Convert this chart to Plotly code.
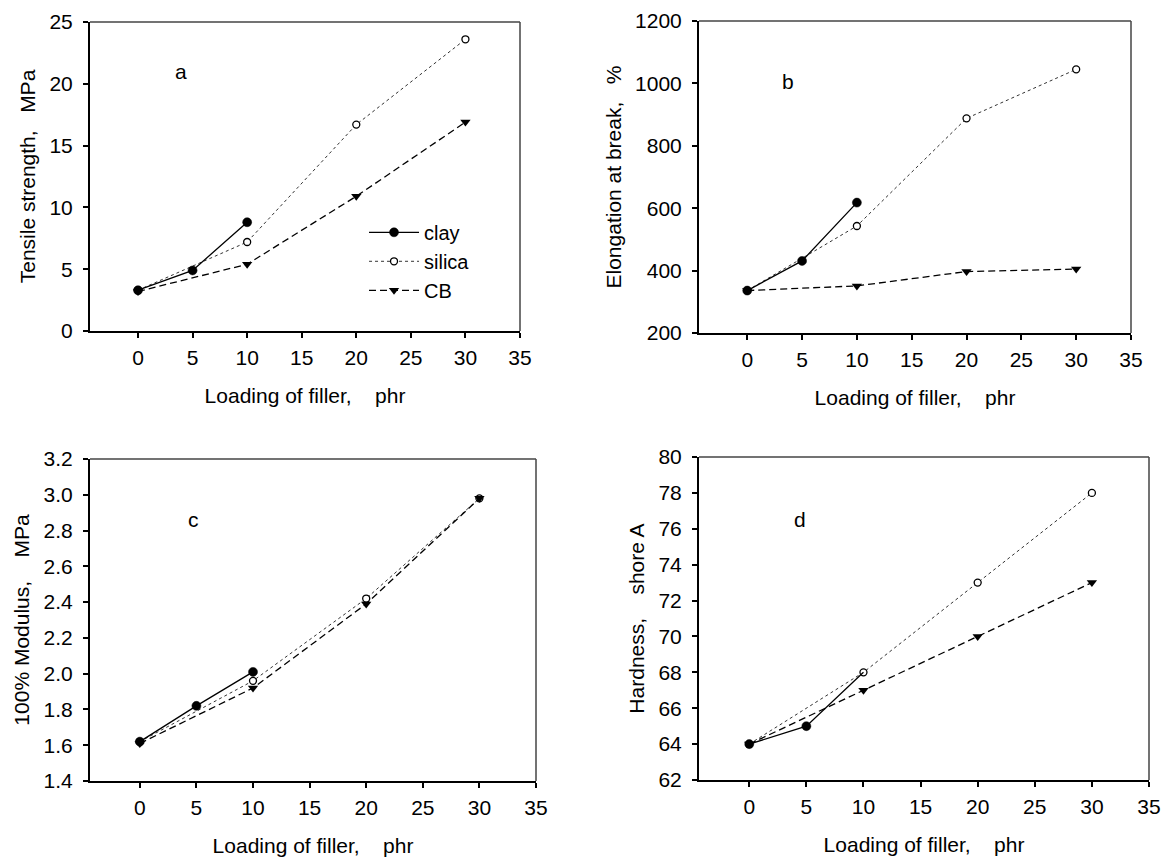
import plotly.graph_objects as go

# ---------------- data ----------------
x_clay = [0, 5, 10]
x_fill = [0, 10, 20, 30]

a_clay = [3.3, 4.9, 8.8]
a_silica = [3.3, 7.2, 16.7, 23.6]
a_cb = [3.2, 5.4, 10.9, 16.9]

b_clay = [336, 431, 618]
b_silica = [336, 543, 888, 1045]
b_cb = [336, 351, 397, 405]

c_clay = [1.62, 1.82, 2.01]
c_silica = [1.62, 1.96, 2.42, 2.98]
c_cb = [1.61, 1.92, 2.39, 2.98]

d_clay = [64, 65, 68]
d_silica = [64, 68, 73, 78]
d_cb = [64, 67, 70, 73]

x_ticks = [0, 5, 10, 15, 20, 25, 30, 35]
x_title = "Loading of filler,\u00a0\u00a0\u00a0\u00a0phr"
y_titles = ["Tensile strength,\u00a0\u00a0\u00a0MPa",
            "Elongation at break,\u00a0\u00a0\u00a0%",
            "100% Modulus,\u00a0\u00a0\u00a0\u00a0MPa",
            "Hardness,\u00a0\u00a0\u00a0\u00a0shore A"]
panel_letters = ["a", "b", "c", "d"]
y_ranges = [[0, 25], [200, 1200], [1.4, 3.2], [62, 80]]
y_dticks = [5, 200, 0.2, 2]
y_formats = ["d", "d", ".1f", "d"]

panels = [(a_clay, a_silica, a_cb), (b_clay, b_silica, b_cb),
          (c_clay, c_silica, c_cb), (d_clay, d_silica, d_cb)]

# letter positions in data coordinates
letter_pos = [(3.9, 21.0), (3.7, 1007), (4.7, 2.86), (4.4, 76.5)]

# ---------------- layout geometry ----------------
W, H = 1163, 858
boxes = [(90, 520, 22, 331), (699, 1131, 21, 333),
         (90, 536, 459, 781), (699, 1149, 457, 780)]

FONT = "Liberation Sans, Arial, Helvetica, sans-serif"
FS = 21

fig = go.Figure()

for i, (clay, silica, cb) in enumerate(panels):
    n = "" if i == 0 else str(i + 1)
    xa, ya = "x" + n, "y" + n
    show = i == 0
    clay_sizes = [9, 9, 9] if i != 3 else [9, 9, 0]
    fig.add_trace(go.Scatter(
        x=x_fill, y=silica, xaxis=xa, yaxis=ya, name="silica",
        mode="lines+markers", showlegend=show, legendrank=2,
        line=dict(color="#333333", width=1, dash="dot"),
        marker=dict(symbol="circle", size=7, color="white",
                    line=dict(color="black", width=1.3))))
    fig.add_trace(go.Scatter(
        x=x_fill, y=cb, xaxis=xa, yaxis=ya, name="CB",
        mode="lines+markers", showlegend=show, legendrank=3,
        line=dict(color="black", width=1.3, dash="7px,4px"),
        marker=dict(symbol="triangle-down", size=9, color="black",
                    line=dict(width=0))))
    fig.add_trace(go.Scatter(
        x=x_clay, y=clay, xaxis=xa, yaxis=ya, name="clay",
        mode="lines+markers", showlegend=show, legendrank=1,
        line=dict(color="black", width=1.3),
        marker=dict(symbol="circle", size=clay_sizes, color="black",
                    opacity=1, line=dict(color="black", width=0.5))))

    x0, x1, yt, yb = boxes[i]
    fig.layout["xaxis" + n] = dict(
        domain=[x0 / W, x1 / W], anchor=ya, range=[-4.4, 35],
        tickvals=x_ticks, ticks="outside", ticklen=5, tickwidth=1.5,
        tickcolor="black", showline=True, linecolor="black", linewidth=2,
        showgrid=False, zeroline=False, ticklabelstandoff=2, automargin=False,
        tickfont=dict(family=FONT, size=FS, color="black"),
        title=dict(text=x_title, standoff=20,
                   font=dict(family=FONT, size=FS, color="black")))
    fig.layout["yaxis" + n] = dict(
        domain=[1 - yb / H, 1 - yt / H], anchor=xa, range=y_ranges[i],
        dtick=y_dticks[i], tick0=y_ranges[i][0], tickformat=y_formats[i],
        ticks="outside", ticklen=5, tickwidth=1.5, automargin=False,
        tickcolor="black", showline=True, linecolor="black", linewidth=2,
        showgrid=False, zeroline=False, ticklabelstandoff=6,
        tickfont=dict(family=FONT, size=FS, color="black"),
        title=dict(text=y_titles[i], standoff=8,
                   font=dict(family=FONT, size=FS, color="black")))

    # thinner top / right frame lines
    fig.add_shape(type="line", xref=xa + " domain", yref=ya + " domain",
                  x0=0, x1=1, y0=1, y1=1, line=dict(color="#444444", width=1.5))
    fig.add_shape(type="line", xref=xa + " domain", yref=ya + " domain",
                  x0=1, x1=1, y0=0, y1=1, line=dict(color="#444444", width=1.5))

    lx, ly = letter_pos[i]
    fig.add_annotation(x=lx, y=ly, xref=xa, yref=ya, text=panel_letters[i],
                       showarrow=False,
                       font=dict(family=FONT, size=FS, color="black"))

fig.update_layout(
    template="none",
    width=W, height=H, margin=dict(l=0, r=0, t=0, b=0, autoexpand=False),
    paper_bgcolor="white", plot_bgcolor="white",
    font=dict(family=FONT, size=FS, color="black"),
    legend=dict(x=0.313, y=0.752, xanchor="left", yanchor="top",
                bgcolor="rgba(0,0,0,0)", borderwidth=0, itemwidth=50,
                font=dict(family=FONT, size=20, color="black"),
                tracegroupgap=0),
)

fig.write_html("out.html",
               config={"displayModeBar": False},
               post_script="document.body.style.margin='0';"
                           "document.body.style.overflow='hidden';")
